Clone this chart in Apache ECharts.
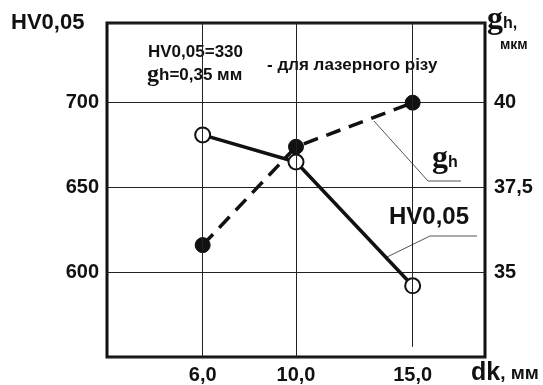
<!DOCTYPE html>
<html>
<head>
<meta charset="utf-8">
<script src="https://cdn.jsdelivr.net/npm/echarts@6/dist/echarts.min.js"></script>
<style>
html, body { margin: 0; padding: 0; background: #fff; }
#box { width: 543px; height: 385px; }
</style>
</head>
<body>
<div id="box"></div>
<script>
// dk, мм
var dkValues = [6, 10, 15];
// HV0,05 (open circles, solid)
var hvValues = [681, 665, 592];
// gh, мкм (filled circles, dashed)
var ghValues = [35.8, 38.7, 40];
var hvTicks = [600, 650, 700];
var ghTicks = [35, 37.5, 40];

var dom = document.getElementById("box");
var myChart = echarts.init(dom);

var boldFont = 'Liberation Sans';
function comma(v) {
	return String(v).replace('.', ',');
}

var option = {
	animation: false,
	backgroundColor: '#fff',
	grid: {
		left: 107,
		right: 58,
		top: 23,
		bottom: 27,
		show: true,
		borderColor: '#111',
		borderWidth: 3
	},
	xAxis: {
		type: 'value',
		min: 1.9,
		max: 18.1,
		axisLine: { show: false },
		axisTick: { show: false },
		splitLine: { show: false },
		axisLabel: {
			customValues: dkValues,
			formatter: function(v) { return v.toFixed(1).replace('.', ','); },
			color: '#111',
			fontFamily: boldFont,
			fontWeight: 'bold',
			fontSize: 20,
			margin: 8
		}
	},
	yAxis: [{
			type: 'value',
			min: 550,
			max: 747,
			interval: 50,
			axisLine: { show: false },
			axisTick: { show: false },
			splitLine: {
				show: true,
				lineStyle: { color: '#222', width: 1 }
			},
			axisLabel: {
				customValues: hvTicks,
				color: '#111',
				fontFamily: boldFont,
				fontWeight: 'bold',
				fontSize: 20,
				margin: 8
			}
		},
		{
			type: 'value',
			min: 32.5,
			max: 42.35,
			interval: 2.5,
			axisLine: { show: false },
			axisTick: { show: false },
			splitLine: { show: false },
			axisLabel: {
				customValues: ghTicks,
				formatter: function(v) { return comma(v); },
				color: '#111',
				fontFamily: boldFont,
				fontWeight: 'bold',
				fontSize: 20,
				margin: 9
			}
		}
	],
	series: [{
			name: 'vlines',
			type: 'line',
			data: [],
			markLine: {
				silent: true,
				symbol: 'none',
				label: { show: false },
				lineStyle: { color: '#222', width: 1, type: 'solid' },
				data: [
					{ xAxis: dkValues[0] },
					{ xAxis: dkValues[1] },
					[{ coord: [dkValues[2], 747] }, { coord: [dkValues[2], 556] }]
				]
			}
		},
		{
			name: 'gh',
			type: 'line',
			yAxisIndex: 1,
			data: dkValues.map(function(d, i) { return [d, ghValues[i]]; }),
			symbol: 'circle',
			symbolSize: 15,
			lineStyle: { color: '#111', width: 3.5, type: [15, 9] },
			itemStyle: { color: '#111', borderColor: '#111', borderWidth: 1 },
			z: 3
		},
		{
			name: 'HV0,05',
			type: 'line',
			data: dkValues.map(function(d, i) { return [d, hvValues[i]]; }),
			symbol: 'circle',
			symbolSize: 15,
			lineStyle: { color: '#111', width: 3.5 },
			itemStyle: { color: '#fff', borderColor: '#111', borderWidth: 2 },
			z: 4
		}
	],
	graphic: [{
			type: 'text', left: 11, top: 12,
			style: { text: 'HV0,05', fill: '#111', font: 'bold 22px "Liberation Sans"' }
		},
		{
			type: 'text', left: 487, top: 4,
			style: {
				text: '{g|g}{h|h,}',
				rich: {
					g: { fill: '#111', font: 'bold 32px "Liberation Serif"' },
					h: { fill: '#111', font: 'bold 16px "Liberation Sans"', padding: [7, 0, 0, 0] }
				}
			}
		},
		{
			type: 'text', left: 500, top: 38,
			style: { text: 'мкм', fill: '#111', font: 'bold 14px "Liberation Sans"' }
		},
		{
			type: 'text', left: 471, top: 361,
			style: {
				text: '{a|dk}{b|, мм}',
				rich: {
					a: { fill: '#111', font: 'bold 25px "Liberation Sans"' },
					b: { fill: '#111', font: 'bold 19px "Liberation Sans"' }
				}
			}
		},
		{
			type: 'text', left: 148, top: 44,
			style: { text: 'HV0,05=330', fill: '#111', font: 'bold 17px "Liberation Sans"' }
		},
		{
			type: 'text', left: 147, top: 63,
			style: {
				text: '{g|g}{h|h=0,35 мм}',
				rich: {
					g: { fill: '#111', font: 'bold 24px "Liberation Serif"' },
					h: { fill: '#111', font: 'bold 17px "Liberation Sans"' }
				}
			}
		},
		{
			type: 'text', left: 267, top: 57,
			style: { text: '- для лазерного різу', fill: '#111', font: 'bold 17px "Liberation Sans"' }
		},
		{
			type: 'text', left: 432, top: 143,
			style: {
				text: '{g|g}{h|h}',
				rich: {
					g: { fill: '#111', font: 'bold 32px "Liberation Serif"' },
					h: { fill: '#111', font: 'bold 16px "Liberation Sans"', padding: [7, 0, 0, 0] }
				}
			}
		},
		{
			type: 'text', left: 389, top: 205,
			style: { text: 'HV0,05', fill: '#111', font: 'bold 24px "Liberation Sans"' }
		},
		{
			type: 'polyline',
			shape: { points: [[374, 121], [428, 181], [461, 181]] },
			style: { stroke: '#555', lineWidth: 1, fill: null }
		},
		{
			type: 'polyline',
			shape: { points: [[385, 258], [430, 236], [477, 236]] },
			style: { stroke: '#555', lineWidth: 1, fill: null }
		}
	]
};

myChart.setOption(option, true);
</script>
</body>
</html>
